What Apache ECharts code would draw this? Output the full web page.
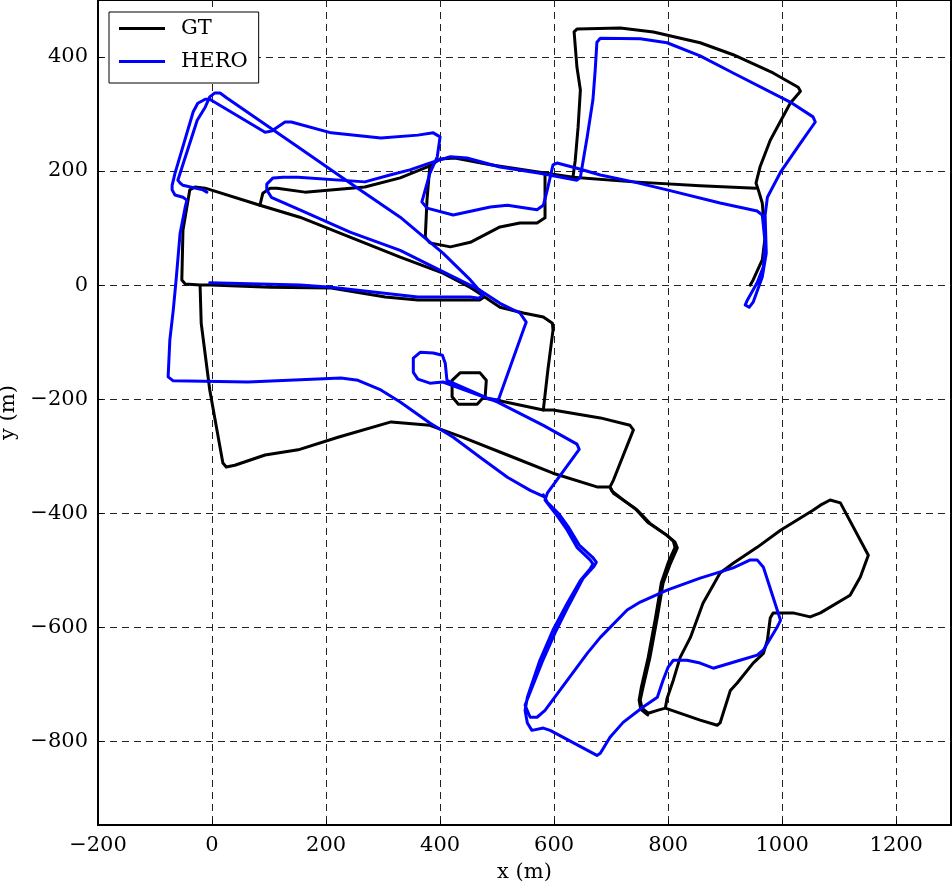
<!DOCTYPE html>
<html>
<head>
<meta charset="utf-8">
<title>GT vs HERO</title>
<script src="https://cdn.jsdelivr.net/npm/echarts@6/dist/echarts.min.js"></script>
<style>
    html, body { margin: 0; padding: 0; background: #fff; }
    #contain { width: 952px; height: 884px; }
</style>
</head>
<body>
<div id="contain"></div>
<script>
// 轨迹数据 (m)
var xTicks = [-200, 0, 200, 400, 600, 800, 1000, 1200];
var yTicks = [-800, -600, -400, -200, 0, 200, 400];

// GT: 东侧起点 -> 北面大弧 -> 上边线向西
var gtEast = [[944,0],[949,9],[965,44],[970,84],[965,144],[958,167],[954,179],[961,207],[979,254],[1014,319],[1032,340],[1028,347],[984,372],[914,404],[856,425],[774,444],[716,451],[640,449],[635,444],[640,382],[646,342],[642,277],[637,219],[633,189],[575,198],[488,211],[426,223],[400,221],[382,209],[330,188],[268,172],[163,163],[114,170],[102,170],[89,161],[84,140]];
var gtUpperEast = [[633,189],[739,181],[856,174],[954,170]];
var gtBox = [[382,209],[377,149],[374,84],[382,74],[418,67],[453,75],[505,102],[540,109],[570,109],[584,118],[584,194]];
// GT: 西侧矩形、斜线、回头线、南边线、东南环
var gtWest = [[-21,0],[-47,2],[-53,9],[-51,96],[-39,167],[-30,172],[-12,170],[84,140],[154,119],[242,84],[330,49],[405,21],[453,-4],[470,-14],[477,-21],[470,-26],[465,-26],[361,-26],[304,-21],[209,-5],[102,-4],[-2,0],[-21,0],
    [-19,-67],[-4,-184],[19,-312],[25,-319],[40,-316],[93,-298],[151,-289],[221,-267],[314,-240],[382,-246],[440,-267],[528,-302],[598,-330],[675,-354],[698,-354],
    [704,-365],[728,-382],[746,-395],[768,-418],[798,-439],[812,-451],[816,-461],[804,-488],[791,-523],[781,-582],[768,-653],[756,-705],[751,-728],[754,-742],[765,-751],[781,-746],[795,-742],
    [856,-763],[886,-772],[891,-768],[909,-711],[921,-698],[949,-663],[967,-646],[974,-623],[979,-584],[984,-575],[1019,-575],[1049,-582],[1067,-575],[1119,-544],[1137,-512],[1151,-474],[1102,-382],[1084,-377],[1067,-386],[1054,-395],[997,-430],[956,-460],[914,-488],[891,-505],[861,-558],[839,-618],[821,-653],[809,-693],[798,-725],[795,-742]];
var gtBranch = [[453,-4],[505,-39],[546,-49],[581,-56],[597,-67],[598,-79],[589,-149],[581,-219]];
// 小方环 -> 拐角 -> 东南方向第二次经过 (原图此段偏粗)
var gtMid = [[475,-198],[465,-209],[432,-209],[421,-196],[421,-167],[435,-154],[470,-154],[481,-167],[479,-196],[475,-198],[500,-202],[581,-219],[598,-219],[681,-233],[733,-246],[739,-254],[704,-342],[698,-354],
    [701,-361],[724,-379],[742,-392],[764,-416],[795,-437],[809,-449],[812,-460],[800,-487],[788,-522],[778,-582],[765,-653],[753,-705],[749,-728],[752,-744],[764,-754]];

// HERO
var heroMain = [[584,-372],[558,-360],[518,-337],[470,-302],[423,-267],[382,-242],[330,-205],[296,-184],[256,-167],[226,-163],[63,-170],[-68,-168],[-77,-161],[-74,-96],[-68,-44],[-63,9],[-56,91],[-47,137],[-44,149],[-51,154],[-65,158],[-70,167],[-70,175],[-65,196],[-33,304],[-25,319],[-12,326],[-4,326],[93,268],[104,270],[128,286],[139,286],[209,267],[296,258],[361,263],[388,267],[400,260],[395,225],[382,196],[368,146],[377,135],[423,123],[488,137],[518,140],[570,132],[581,140],[588,167],[598,211],[605,214],[640,205],[681,193],[739,181],[798,167],[891,144],[956,130],[965,123],[970,74],[967,32],[956,4],[939,-26],[935,-35],[942,-39],[949,-30],[965,14],[972,56],[970,123],[974,154],[997,198],[1032,249],[1058,286],[1054,295],[1014,321],[914,372],[856,402],[798,425],[751,432],[681,433],[675,426],[672,377],[668,325],[658,260],[649,207],[646,189],[640,184],[575,196],[505,207],[447,223],[418,225],[388,216],[347,202],[312,193],[268,181],[151,189],[125,189],[107,188],[96,177],[96,167],[104,154],[154,132],[242,93],[330,61],[388,32],[470,-9],[505,-32],[540,-49],[551,-65],[546,-79],[502,-202],[482,-198],[412,-167],[409,-137],[404,-123],[388,-119],[365,-118],[353,-128],[353,-153],[361,-165],[382,-172],[405,-170],[500,-205],[581,-246],[640,-279],[644,-288],[588,-365],[584,-377],[607,-407],[623,-430],[640,-460],[663,-482],[668,-489],[663,-498],[646,-518],[623,-558],[598,-605],[575,-658],[553,-723],[549,-746],[553,-768],[561,-781],[581,-777],[593,-781],[675,-825],[681,-821],[698,-793],[721,-767],[756,-740],[781,-723],[791,-693],[800,-670],[809,-658],[833,-658],[856,-663],[879,-672],[926,-658],[956,-649],[967,-640],[991,-600],[997,-588],[967,-495],[956,-482],[944,-482],[914,-496],[856,-514],[798,-535],[751,-556],[728,-570],[681,-618],[658,-646],[584,-746],[570,-758],[558,-758],[549,-737],[556,-719],[579,-661],[602,-609],[626,-561],[651,-514],[670,-493],[674,-486],[667,-477],[644,-456],[626,-426],[609,-402],[588,-381],[581,-368]];
var heroStub = [[-9,163],[-16,167],[-51,175],[-56,179],[-60,184],[-26,289],[-12,312],[-4,330],[5,337],[14,337],[26,328],[154,240],[242,179],[330,119],[405,56],[453,9],[470,-11],[475,-18],[468,-23],[453,-21],[361,-21],[209,-4],[154,0],[-4,4]];

var FONT = 'DejaVu Serif';

function fmtTick(v) {
    return v < 0 ? '\u2212' + Math.abs(v) : String(v);
}

function lineSeries(name, data, color) {
    return {
        name: name,
        type: 'line',
        data: data,
        symbol: 'none',
        showSymbol: false,
        silent: true,
        clip: true,
        lineStyle: { color: color, width: 3, cap: 'round', join: 'round' },
        itemStyle: { color: color }
    };
}

function axisCommon(ticks, name) {
    return {
        type: 'value',
        name: name,
        nameLocation: 'middle',
        nameTextStyle: { fontFamily: FONT, fontSize: 21, color: '#000' },
        axisLine: { show: true, onZero: false, lineStyle: { color: '#000', width: 2 } },
        axisTick: { show: true, inside: true, length: 5, customValues: ticks, lineStyle: { color: '#000', width: 1 } },
        axisLabel: { customValues: ticks, formatter: fmtTick, fontFamily: FONT, fontSize: 21, color: '#000', margin: 10 },
        splitLine: { show: true, lineStyle: { color: '#222', width: 1, type: [7, 5] } }
    };
}

var xAxis = axisCommon(xTicks, 'x (m)');
xAxis.min = -200;
xAxis.max = 1296;
xAxis.nameGap = 37;

var yAxis = axisCommon(yTicks, 'y (m)');
yAxis.min = -947;
yAxis.max = 500;
yAxis.nameGap = 75;

var series = [
    lineSeries('GT', gtEast, '#000000'),
    lineSeries('GT', gtUpperEast, '#000000'),
    lineSeries('GT', gtBox, '#000000'),
    lineSeries('GT', gtWest, '#000000'),
    lineSeries('GT', gtBranch, '#000000'),
    lineSeries('GT', gtMid, '#000000'),
    lineSeries('HERO', heroMain, '#0000ff'),
    lineSeries('HERO', heroStub, '#0000ff')
];

var option = {
    animation: false,
    backgroundColor: '#fff',
    grid: {
        left: 98,
        right: 1,
        top: 0,
        bottom: 59,
        containLabel: false,
        outerBoundsMode: 'none',
        show: true,
        borderColor: '#000',
        borderWidth: 2,
        backgroundColor: 'transparent'
    },
    legend: {
        data: ['GT', 'HERO'],
        orient: 'vertical',
        left: 109,
        top: 12,
        icon: 'rect',
        itemWidth: 46,
        itemHeight: 3,
        itemGap: 12,
        padding: [6, 11, 11, 10],
        borderColor: '#000',
        borderWidth: 1,
        backgroundColor: '#fff',
        textStyle: { fontFamily: FONT, fontSize: 21, color: '#000', padding: [0, 0, 0, 11] }
    },
    xAxis: xAxis,
    yAxis: yAxis,
    series: series
};

var myChart = echarts.init(document.getElementById('contain'), null, { renderer: 'canvas' });
myChart.setOption(option);
</script>
</body>
</html>
